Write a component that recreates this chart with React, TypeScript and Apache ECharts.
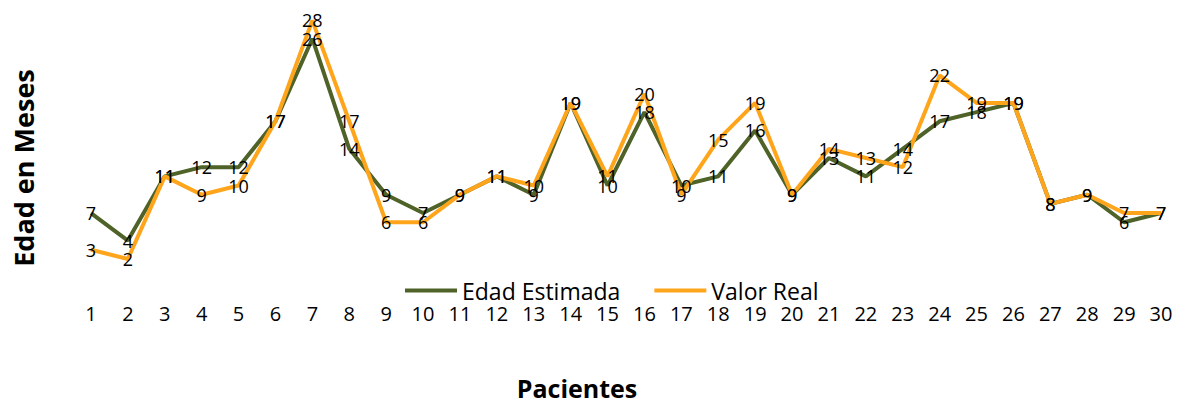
import React, { useEffect, useRef } from "react";
import * as echarts from "echarts";

const categories = ["1","2","3","4","5","6","7","8","9","10","11","12","13","14","15","16","17","18","19","20","21","22","23","24","25","26","27","28","29","30"];
const edadEstimada = [7,4,11,12,12,17,26,14,9,7,9,11,9,19,10,18,10,11,16,9,13,11,14,17,18,19,8,9,6,7];
const valorReal = [3,2,11,9,10,17,28,17,6,6,9,11,10,19,11,20,9,15,19,9,14,13,12,22,19,19,8,9,7,7];

const FONT = "Open Sans";

export default function App() {
  const ref = useRef<HTMLDivElement>(null);
  useEffect(() => {
    document.body.style.margin = "0";
    if (!ref.current) return;
    const chart = echarts.init(ref.current, undefined, { renderer: "svg" });
    const label = {
      show: true,
      position: "inside",
      color: "#000",
      fontFamily: FONT,
      fontSize: 18,
    };
    chart.setOption({
      animation: false,
      backgroundColor: "#fff",
      grid: { left: 72.5, right: 5.5, top: 2, bottom: 126.7, containLabel: false },
      legend: {
        left: 405,
        top: 279,
        padding: 0,
        icon: "rect",
        itemWidth: 52,
        itemHeight: 4,
        itemGap: 34,
        textStyle: { fontFamily: FONT, fontSize: 23, color: "#000" },
        data: ["Edad Estimada", "Valor Real"],
      },
      xAxis: {
        type: "category",
        data: categories,
        boundaryGap: true,
        axisLine: { show: false },
        axisTick: { show: false },
        axisLabel: { margin: 26, color: "#000", fontFamily: FONT, fontSize: 20, interval: 0 },
      },
      yAxis: {
        type: "value",
        min: 0,
        max: 30,
        show: false,
        splitLine: { show: false },
      },
      graphic: [
        {
          type: "text",
          rotation: Math.PI / 2,
          x: 23,
          y: 168,
          style: {
            text: "Edad en Meses",
            fontFamily: FONT,
            fontWeight: "bold",
            fontSize: 27,
            fill: "#000",
            align: "center",
            verticalAlign: "middle",
          },
        },
        {
          type: "text",
          x: 577,
          y: 388,
          style: {
            text: "Pacientes",
            fontFamily: FONT,
            fontWeight: "bold",
            fontSize: 25,
            fill: "#000",
            align: "center",
            verticalAlign: "middle",
          },
        },
      ],
      series: [
        {
          name: "Edad Estimada",
          type: "line",
          data: edadEstimada,
          symbol: "circle",
          symbolSize: 0.1,
          lineStyle: { color: "#4F6228", width: 4 },
          itemStyle: { color: "#4F6228" },
          label,
        },
        {
          name: "Valor Real",
          type: "line",
          data: valorReal,
          symbol: "circle",
          symbolSize: 0.1,
          lineStyle: { color: "#FFA51C", width: 4 },
          itemStyle: { color: "#FFA51C" },
          label,
        },
      ],
    });
    return () => chart.dispose();
  }, []);
  return <div ref={ref} style={{ width: 1185, height: 404 }} />;
}
